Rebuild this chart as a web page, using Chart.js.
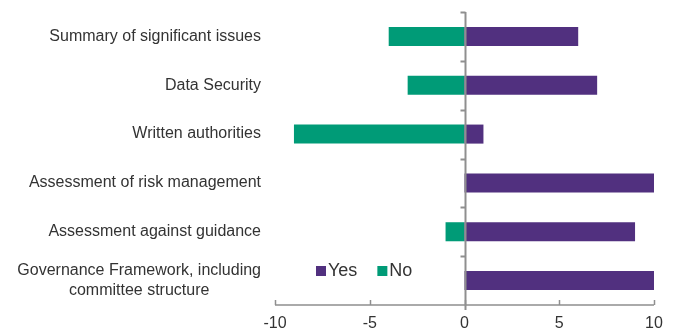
<!DOCTYPE html>
<html>
<head>
<meta charset="utf-8">
<script src="https://cdn.jsdelivr.net/npm/chart.js@4/dist/chart.umd.min.js"></script>
<style>
  html, body { margin: 0; padding: 0; background: #fff; }
  #wrap { position: relative; width: 675px; height: 331px; }
</style>
</head>
<body>
<div id="wrap"><canvas id="grafico" width="675" height="331"></canvas></div>
<script>
const categorias = [
    'Summary of significant issues',
    'Data Security',
    'Written authorities',
    'Assessment of risk management',
    'Assessment against guidance',
    ['Governance Framework, including', 'committee structure']
];
const valoresSim = [6, 7, 1, 10, 9, 10];
const valoresNao = [-4, -3, -9, 0, -1, 0];
const ticksX = [-10, -5, 0, 5, 10];

const corSim = '#51307f';
const corNao = '#009b77';
const corEixo = '#8f8f8f';
const corTexto = '#333333';
const fonte = '"Liberation Sans", Arial, sans-serif';

// eixos, rótulos e legenda desenhados à mão (estilo Excel)
const eixosPlugin = {
    id: 'eixos',
    afterDatasetsDraw(chart) {
        const ctx = chart.ctx;
        const area = chart.chartArea;
        const sx = chart.scales.x;
        const sy = chart.scales.y;
        const zeroX = Math.round(sx.getPixelForValue(0)) + 0.5;
        ctx.save();
        ctx.strokeStyle = corEixo;

        // eixo x embaixo com marcas para cima
        ctx.lineWidth = 1.5;
        ctx.beginPath();
        ctx.moveTo(area.left, area.bottom);
        ctx.lineTo(area.right, area.bottom);
        ticksX.forEach(v => {
            const px = Math.round(sx.getPixelForValue(v)) + 0.5;
            ctx.moveTo(px, area.bottom);
            ctx.lineTo(px, area.bottom - 5);
        });
        ctx.stroke();

        // eixo vertical no zero
        ctx.lineWidth = 2;
        ctx.beginPath();
        ctx.moveTo(zeroX, area.top);
        ctx.lineTo(zeroX, area.bottom + 5);
        const passo = (area.bottom - area.top) / categorias.length;
        for (let i = 0; i < categorias.length; i++) {
            const py = Math.round(area.top + passo * i) + 0.5;
            ctx.moveTo(zeroX - 5, py);
            ctx.lineTo(zeroX, py);
        }
        ctx.stroke();

        // rótulos das categorias
        ctx.fillStyle = corTexto;
        ctx.font = '16px ' + fonte;
        ctx.textBaseline = 'middle';
        ctx.textAlign = 'center';
        categorias.forEach((cat, i) => {
            const linhas = Array.isArray(cat) ? cat : [cat];
            const largura = Math.max(...linhas.map(l => ctx.measureText(l).width));
            const cx = 261 - largura / 2;
            const cy = sy.getPixelForValue(i);
            const alt = 19.5;
            linhas.forEach((l, j) => {
                ctx.fillText(l, cx, cy + (j - (linhas.length - 1) / 2) * alt);
            });
        });

        // legenda dentro da área
        ctx.textAlign = 'left';
        let lx = 316;
        const ly = 271;
        ctx.font = '18px ' + fonte;
        chart.data.datasets.forEach(ds => {
            ctx.fillStyle = ds.backgroundColor;
            ctx.fillRect(lx, ly - 5, 10, 10);
            ctx.fillStyle = corTexto;
            ctx.fillText(ds.label, lx + 12, ly);
            lx += 12 + ctx.measureText(ds.label).width + 20;
        });
        ctx.restore();
    }
};

new Chart(document.getElementById('grafico').getContext('2d'), {
    type: 'bar',
    data: {
        labels: categorias,
        datasets: [
            { label: 'Yes', data: valoresSim, backgroundColor: corSim },
            { label: 'No', data: valoresNao, backgroundColor: corNao }
        ]
    },
    options: {
        indexAxis: 'y',
        responsive: false,
        animation: false,
        categoryPercentage: 1,
        barPercentage: 0.39,
        layout: { padding: { top: 12, right: 21, left: 0, bottom: 0 } },
        plugins: {
            legend: { display: false },
            tooltip: { enabled: false }
        },
        scales: {
            x: {
                stacked: true,
                min: -10,
                max: 10,
                afterBuildTicks(scale) {
                    scale.ticks = ticksX.map(v => ({ value: v }));
                },
                grid: { display: false, drawTicks: false },
                border: { display: false },
                ticks: {
                    color: corTexto,
                    font: { family: fonte, size: 16 },
                    padding: 9,
                    maxRotation: 0
                },
                afterFit(scale) { scale.height = 26; }
            },
            y: {
                stacked: true,
                grid: { display: false, drawTicks: false },
                border: { display: false },
                ticks: { display: false },
                afterFit(scale) { scale.width = 275; }
            }
        }
    },
    plugins: [eixosPlugin]
});
</script>
</body>
</html>
